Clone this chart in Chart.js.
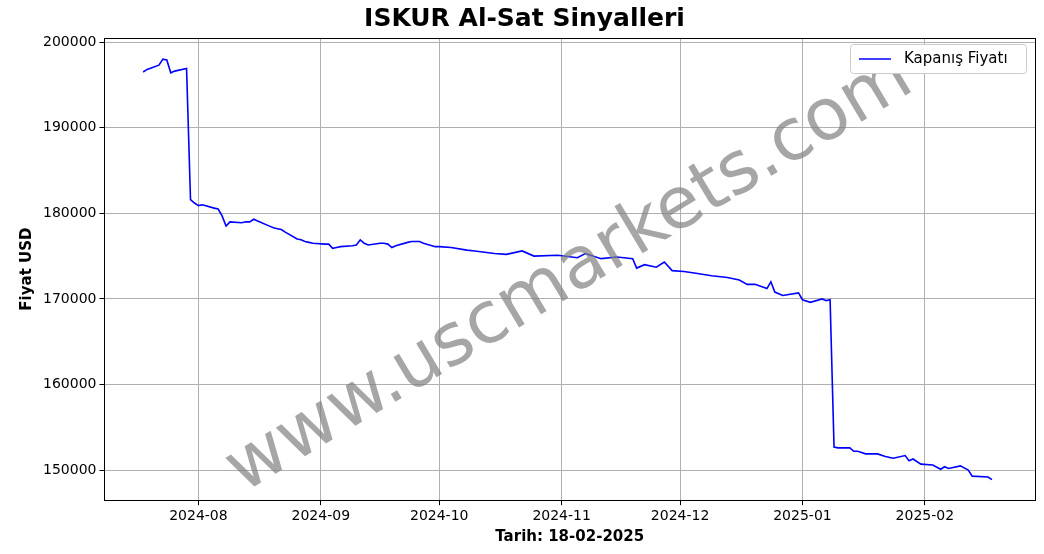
<!DOCTYPE html><html><head><meta charset="utf-8">
<script src="https://cdn.jsdelivr.net/npm/chart.js@4"></script>
<style>body{margin:0;background:#fff}#w{width:1044px;height:554px}</style></head><body><div id="w"><canvas id="c"></canvas></div>
<script>
const dates=["2024-07-18","2024-07-19","2024-07-22","2024-07-23","2024-07-24","2024-07-25","2024-07-26","2024-07-29","2024-07-30","2024-07-31","2024-08-01","2024-08-02","2024-08-05","2024-08-06","2024-08-07","2024-08-08","2024-08-09","2024-08-12","2024-08-13","2024-08-14","2024-08-15","2024-08-16","2024-08-19","2024-08-20","2024-08-21","2024-08-22","2024-08-23","2024-08-26","2024-08-27","2024-08-28","2024-08-29","2024-08-30","2024-09-02","2024-09-03","2024-09-04","2024-09-05","2024-09-06","2024-09-09","2024-09-10","2024-09-11","2024-09-12","2024-09-13","2024-09-16","2024-09-17","2024-09-18","2024-09-19","2024-09-20","2024-09-23","2024-09-24","2024-09-25","2024-09-26","2024-09-27","2024-09-30","2024-10-01","2024-10-04","2024-10-08","2024-10-10","2024-10-15","2024-10-18","2024-10-22","2024-10-25","2024-10-31","2024-11-05","2024-11-07","2024-11-11","2024-11-15","2024-11-19","2024-11-20","2024-11-22","2024-11-25","2024-11-27","2024-11-29","2024-12-02","2024-12-05","2024-12-09","2024-12-13","2024-12-16","2024-12-18","2024-12-20","2024-12-23","2024-12-24","2024-12-25","2024-12-27","2024-12-31","2025-01-01","2025-01-03","2025-01-06","2025-01-07","2025-01-08","2025-01-09","2025-01-10","2025-01-13","2025-01-14","2025-01-15","2025-01-17","2025-01-20","2025-01-22","2025-01-24","2025-01-27","2025-01-28","2025-01-29","2025-01-31","2025-02-03","2025-02-05","2025-02-06","2025-02-07","2025-02-10","2025-02-12","2025-02-13","2025-02-17","2025-02-18"];
const prices=[196.5,196.8,197.3,198.0,197.9,196.4,196.6,196.9,181.6,181.2,180.9,181.0,180.6,180.5,179.7,178.5,179.0,178.9,179.0,179.0,179.3,179.1,178.5,178.3,178.2,178.1,177.8,177.0,176.9,176.7,176.6,176.5,176.4,176.4,175.9,176.0,176.1,176.2,176.3,176.9,176.5,176.3,176.5,176.5,176.4,176.0,176.2,176.6,176.7,176.7,176.7,176.5,176.1,176.1,176.0,175.7,175.6,175.3,175.2,175.6,175.0,175.1,174.8,175.3,174.7,174.9,174.7,173.6,174.0,173.7,174.3,173.3,173.2,173.0,172.7,172.5,172.2,171.7,171.7,171.2,172.0,170.8,170.4,170.7,169.9,169.6,170.0,169.8,169.9,152.7,152.6,152.6,152.2,152.2,151.9,151.9,151.6,151.4,151.7,151.1,151.3,150.7,150.6,150.1,150.4,150.2,150.5,150.0,149.3,149.2,148.9].map(v=>v*1000);
const yTicks=[150000,160000,170000,180000,190000,200000];
const xTickLabels=["2024-08","2024-09","2024-10","2024-11","2024-12","2025-01","2025-02"];
const day=s=>Date.parse(s+"T00:00:00Z")/864e5;
const pts=dates.map((d,i)=>({x:day(d),y:prices[i]}));
const xTicks=xTickLabels.map(m=>day(m+"-01"));
const F="DejaVu Sans";
const deco={id:'deco',afterDraw(c){const x=c.ctx,a=c.chartArea;x.save();
x.strokeStyle="#000";x.lineWidth=1;x.strokeRect(Math.round(a.left)+0.5,Math.round(a.top)+0.5,Math.round(a.right-a.left),Math.round(a.bottom-a.top));x.restore();x.save();
x.translate(570,275);x.rotate(-31*Math.PI/180);x.font="72px "+F;x.fillStyle="rgba(128,128,128,0.7)";x.textAlign="center";x.textBaseline="middle";x.fillText("www.uscmarkets.com",0,0);x.restore();
x.save();x.fillStyle="#fff";x.strokeStyle="#ccc";x.lineWidth=1;const lx=850.5,ly=44.5,w=176,h=29;x.beginPath();x.roundRect(lx,ly,w,h,3);x.fill();x.stroke();
x.strokeStyle="blue";x.lineWidth=1.5;x.beginPath();x.moveTo(859,59);x.lineTo(891,59);x.stroke();x.fillStyle="#000";x.font="15px "+F;x.textBaseline="middle";x.fillText("Kapanış Fiyatı",904,59);x.restore();}};
new Chart(document.getElementById('c'),{type:'line',data:{datasets:[{data:pts,borderColor:'blue',borderWidth:1.6,pointRadius:0,tension:0}]},
options:{responsive:true,maintainAspectRatio:false,animation:false,layout:{padding:{left:14,right:9,top:0,bottom:4}},
plugins:{legend:{display:false},tooltip:{enabled:false},title:{display:true,text:"ISKUR Al-Sat Sinyalleri",font:{family:F,size:25,weight:'bold'},color:'#000',padding:{top:4,bottom:4}}},
scales:{x:{type:'linear',min:day("2024-07-08")+0.2,max:day("2025-02-28")+0.9,afterBuildTicks:s=>{s.ticks=xTicks.map(v=>({value:v}))},
ticks:{callback:(v)=>xTickLabels[xTicks.indexOf(v)]??"",color:'#000',font:{family:F,size:14},maxRotation:0},grid:{color:'#b0b0b0',tickColor:'#000',tickLength:5},border:{color:'#000'},
title:{display:true,text:"Tarih: 18-02-2025",font:{family:F,size:15,weight:'bold'},color:'#000',padding:{top:0}}},
y:{min:146490,max:200470,afterBuildTicks:s=>{s.ticks=yTicks.map(v=>({value:v}))},ticks:{callback:v=>String(v),color:'#000',font:{family:F,size:14}},grid:{color:'#b0b0b0',tickColor:'#000',tickLength:5},border:{color:'#000'},
title:{display:true,text:"Fiyat USD",font:{family:F,size:15,weight:'bold'},color:'#000'}}}},plugins:[deco]});
</script></body></html>
